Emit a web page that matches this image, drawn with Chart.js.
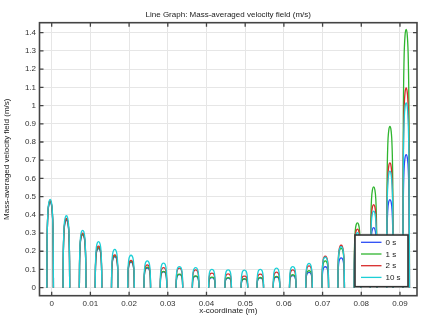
<!DOCTYPE html>
<html lang="en">
<head>
<meta charset="UTF-8">
<title>Line Graph: Mass-averaged velocity field (m/s)</title>
<style>
    body { margin: 0; background: #ffffff; }
    #wrap { width: 426px; height: 336px; }
</style>
</head>
<body>
<div id="wrap"><canvas id="velocityChart" width="426" height="336"></canvas></div>

<script src="https://cdn.jsdelivr.net/npm/chart.js"></script>
<script>
// Channel centres along x (m), one arch per channel
const archCenters = [-0.0004, 0.0038, 0.0080, 0.0121, 0.0163, 0.0205, 0.0247, 0.0289, 0.0330, 0.0372, 0.0414, 0.0456,
    0.0498, 0.0539, 0.0581, 0.0623, 0.0665, 0.0707, 0.0748, 0.0790, 0.0832, 0.0874, 0.0916];

// Peak velocity (m/s) in each channel, per time
const peaks0s = [0.470, 0.370, 0.290, 0.215, 0.170, 0.140, 0.108, 0.087, 0.072, 0.062, 0.055, 0.052, 0.047, 0.053,
    0.058, 0.066, 0.084, 0.115, 0.164, 0.240, 0.330, 0.484, 0.731];
const peaks1s = [0.475, 0.375, 0.293, 0.220, 0.175, 0.144, 0.113, 0.090, 0.075, 0.065, 0.058, 0.055, 0.049, 0.056,
    0.062, 0.071, 0.093, 0.147, 0.216, 0.356, 0.553, 0.886, 1.418];
const peaks2s = [0.478, 0.380, 0.300, 0.228, 0.180, 0.150, 0.125, 0.110, 0.107, 0.098, 0.080, 0.076, 0.064, 0.075,
    0.085, 0.098, 0.120, 0.173, 0.233, 0.322, 0.456, 0.685, 1.097];
const peaks10s = [0.485, 0.395, 0.315, 0.253, 0.210, 0.178, 0.147, 0.135, 0.116, 0.110, 0.100, 0.098, 0.096, 0.100,
    0.107, 0.116, 0.133, 0.167, 0.225, 0.302, 0.420, 0.640, 1.015];

// Shape of one arch across a channel (offset as fraction of half width, value as fraction of peak)
const profileOffsets = [-1, -0.95, -0.85, -0.65, -0.35, 0, 0.35, 0.65, 0.85, 0.95, 1];
const profileShape = [0, 0.4, 0.68, 0.88, 0.975, 1, 0.975, 0.88, 0.68, 0.4, 0];

const seriesLabels = ["0 s", "1 s", "2 s", "10 s"];
const xTicks = [0, 0.01, 0.02, 0.03, 0.04, 0.05, 0.06, 0.07, 0.08, 0.09];
const yTicks = [0, 0.1, 0.2, 0.3, 0.4, 0.5, 0.6, 0.7, 0.8, 0.9, 1, 1.1, 1.2, 1.3, 1.4];

const archHalfWidth = 0.00085;
const colors = ["#2b4cf5", "#2fb52f", "#d82b2b", "#1ccfd6"];
const FONT = '"Liberation Sans", Arial, sans-serif';

// build arch points, with a gap between channels
function buildPoints(peaks) {
    const pts = [];
    archCenters.forEach((c, i) => {
        profileOffsets.forEach((o, k) => {
            pts.push({ x: c + o * archHalfWidth, y: peaks[i] * profileShape[k] });
        });
        pts.push({ x: c + archHalfWidth * 1.01, y: null });
    });
    return pts;
}

// frame, inward ticks, titles and legend
const framePlugin = {
    id: "frame",
    afterDraw(chart) {
        const ctx = chart.ctx;
        const a = chart.chartArea;
        const xs = chart.scales.x;
        const ys = chart.scales.y;
        ctx.save();
        ctx.strokeStyle = "#444";
        ctx.lineWidth = 1.3;
        ctx.beginPath();
        xTicks.forEach(v => {
            const p = xs.getPixelForValue(v);
            ctx.moveTo(p, a.bottom); ctx.lineTo(p, a.bottom - 4);
            ctx.moveTo(p, a.top); ctx.lineTo(p, a.top + 4);
        });
        yTicks.forEach(v => {
            const p = ys.getPixelForValue(v);
            ctx.moveTo(a.left, p); ctx.lineTo(a.left + 4, p);
            ctx.moveTo(a.right, p); ctx.lineTo(a.right - 4, p);
        });
        ctx.stroke();
        ctx.lineWidth = 1.6;
        ctx.strokeRect(a.left, a.top, a.right - a.left, a.bottom - a.top);

        ctx.fillStyle = "#1a1a1a";
        ctx.font = "8px " + FONT;
        ctx.textAlign = "center";
        ctx.textBaseline = "middle";
        const cx = (a.left + a.right) / 2;
        ctx.fillText("Line Graph: Mass-averaged velocity field (m/s)", cx, 15);
        ctx.fillText("x-coordinate (m)", cx, 311);
        ctx.translate(7, (a.top + a.bottom) / 2);
        ctx.rotate(-Math.PI / 2);
        ctx.fillText("Mass-averaged velocity field (m/s)", 0, 0);
        ctx.restore();

        // legend box
        ctx.save();
        const lx = 355, ly = 235, lw = 53, lh = 51.7;
        ctx.fillStyle = "#ffffff";
        ctx.fillRect(lx, ly, lw, lh);
        ctx.strokeStyle = "#333";
        ctx.lineWidth = 1.6;
        ctx.strokeRect(lx, ly, lw, lh);
        ctx.font = "8px " + FONT;
        ctx.textAlign = "left";
        ctx.textBaseline = "middle";
        seriesLabels.forEach((lab, i) => {
            const y = 242.3 + i * 11.7;
            ctx.strokeStyle = colors[i];
            ctx.lineWidth = 1.3;
            ctx.beginPath();
            ctx.moveTo(361, y);
            ctx.lineTo(381.5, y);
            ctx.stroke();
            ctx.fillStyle = "#1a1a1a";
            ctx.fillText(lab, 385.5, y + 0.5);
        });
        ctx.restore();
    }
};

const allPeaks = [peaks0s, peaks1s, peaks2s, peaks10s];

new Chart(document.getElementById("velocityChart").getContext("2d"), {
    type: "line",
    data: {
        datasets: seriesLabels.map((lab, i) => ({
            label: lab,
            data: buildPoints(allPeaks[i]),
            borderColor: colors[i],
            backgroundColor: colors[i],
            borderWidth: 1.3,
            pointRadius: 0,
            cubicInterpolationMode: "monotone",
            spanGaps: false,
            order: 3 - i
        }))
    },
    options: {
        responsive: false,
        animation: false,
        layout: { padding: { top: 22.7, right: 9, left: 0, bottom: 0 } },
        plugins: {
            legend: { display: false },
            tooltip: { enabled: false }
        },
        scales: {
            x: {
                type: "linear",
                min: -0.00315,
                max: 0.0944,
                afterBuildTicks: s => { s.ticks = xTicks.map(v => ({ value: v })); },
                afterFit: s => { s.height = 40.3; },
                ticks: {
                    autoSkip: false,
                    maxRotation: 0,
                    padding: 3.5,
                    color: "#333",
                    font: { size: 8, family: FONT },
                    callback: v => String(Number(v.toFixed(2)))
                },
                grid: { color: "#e6e6e6", drawTicks: false },
                border: { display: false }
            },
            y: {
                type: "linear",
                min: -0.044,
                max: 1.455,
                afterBuildTicks: s => { s.ticks = yTicks.map(v => ({ value: v })); },
                afterFit: s => { s.width = 39.5; },
                ticks: {
                    autoSkip: false,
                    padding: 3.5,
                    color: "#333",
                    font: { size: 8, family: FONT },
                    callback: v => String(Number(v.toFixed(1)))
                },
                grid: { color: "#e6e6e6", drawTicks: false },
                border: { display: false }
            }
        }
    },
    plugins: [framePlugin]
});
</script>
</body>
</html>
